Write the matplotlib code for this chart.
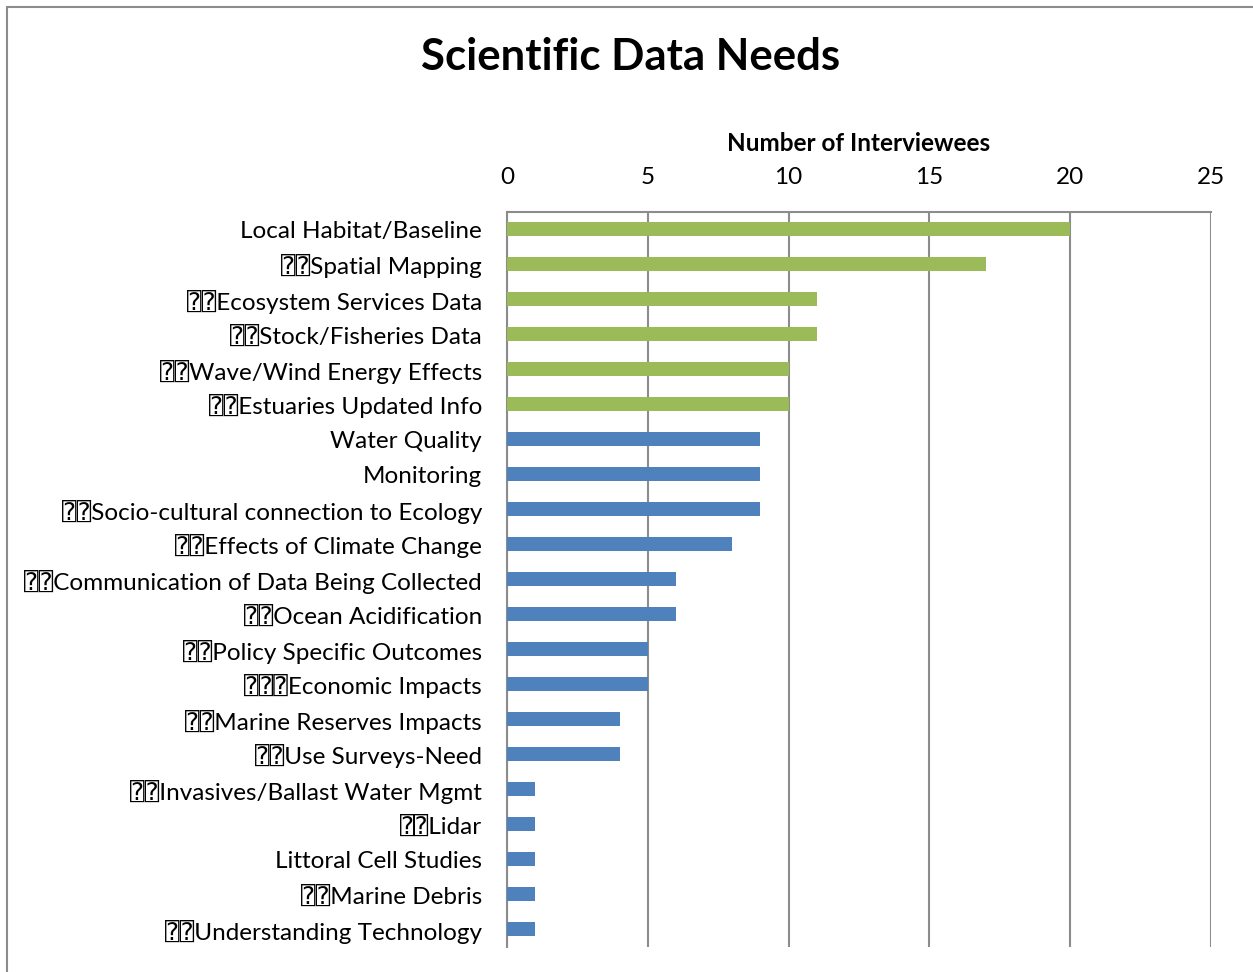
import matplotlib.pyplot as plt
from matplotlib.patches import Rectangle

# survey results: data needs named by interviewees
needs = ['Local Habitat/Baseline', '⍰⍰Spatial Mapping', '⍰⍰Ecosystem Services Data',
         '⍰⍰Stock/Fisheries Data', '⍰⍰Wave/Wind Energy Effects', '⍰⍰Estuaries Updated Info',
         'Water Quality', 'Monitoring', '⍰⍰Socio-cultural connection to Ecology',
         '⍰⍰Effects of Climate Change', '⍰⍰Communication of Data Being Collected',
         '⍰⍰Ocean Acidification', '⍰⍰Policy Specific Outcomes', '⍰⍰⍰Economic Impacts',
         '⍰⍰Marine Reserves Impacts', '⍰⍰Use Surveys-Need', '⍰⍰Invasives/Ballast Water Mgmt',
         '⍰⍰Lidar', 'Littoral Cell Studies', '⍰⍰Marine Debris', '⍰⍰Understanding Technology']
counts = [20, 17, 11, 11, 10, 10, 9, 9, 9, 8, 6, 6, 5, 5, 4, 4, 1, 1, 1, 1, 1]
top_group = 6  # first six are highlighted in green

green = '#9BBB59'
blue = '#4F81BD'
grid_col = '#8C8C8C'

plt.rcParams['font.family'] = ['Lato', 'DejaVu Sans', 'DejaVu Sans Mono']

fig = plt.figure(figsize=(12.53, 9.72), dpi=100)
# chart-area frame
fig.patches.append(Rectangle((7 / 1253, -0.1), 1.2, 1.1 - 7 / 972, transform=fig.transFigure,
                             fill=False, edgecolor='#8C8C8C', linewidth=1.5))

ax = fig.add_axes([507 / 1253, 1 - 947 / 972, (1211 - 507) / 1253, (947 - 212) / 972])

y = list(range(len(needs)))
colors = [green if i < top_group else blue for i in y]
ax.barh(y, counts, height=0.4, color=colors, zorder=3)

ax.set_ylim(len(needs) - 0.5, -0.5)
ax.set_xlim(0, 25)
ax.set_xticks([0, 5, 10, 15, 20, 25])
ax.xaxis.tick_top()
ax.xaxis.set_label_position('top')
ax.tick_params(axis='x', length=0, labelsize=17.5, pad=17)
ax.tick_params(axis='y', length=0, labelsize=17.5, pad=18)
ax.set_yticks(y)
ax.set_yticklabels(needs)
ax.grid(axis='x', color=grid_col, linewidth=1.5, zorder=0)
for s in ['right', 'bottom']:
    ax.spines[s].set_visible(False)
for s in ['left', 'top']:
    ax.spines[s].set_color(grid_col)
    ax.spines[s].set_linewidth(1.5)

ax.set_xlabel('Number of Interviewees', fontsize=17.5, fontweight='bold', labelpad=12)
fig.text(0.503, 1 - 57 / 972, 'Scientific Data Needs', ha='center', va='center',
         fontsize=31.5, fontweight='bold')

plt.savefig('out.png', dpi=100)
